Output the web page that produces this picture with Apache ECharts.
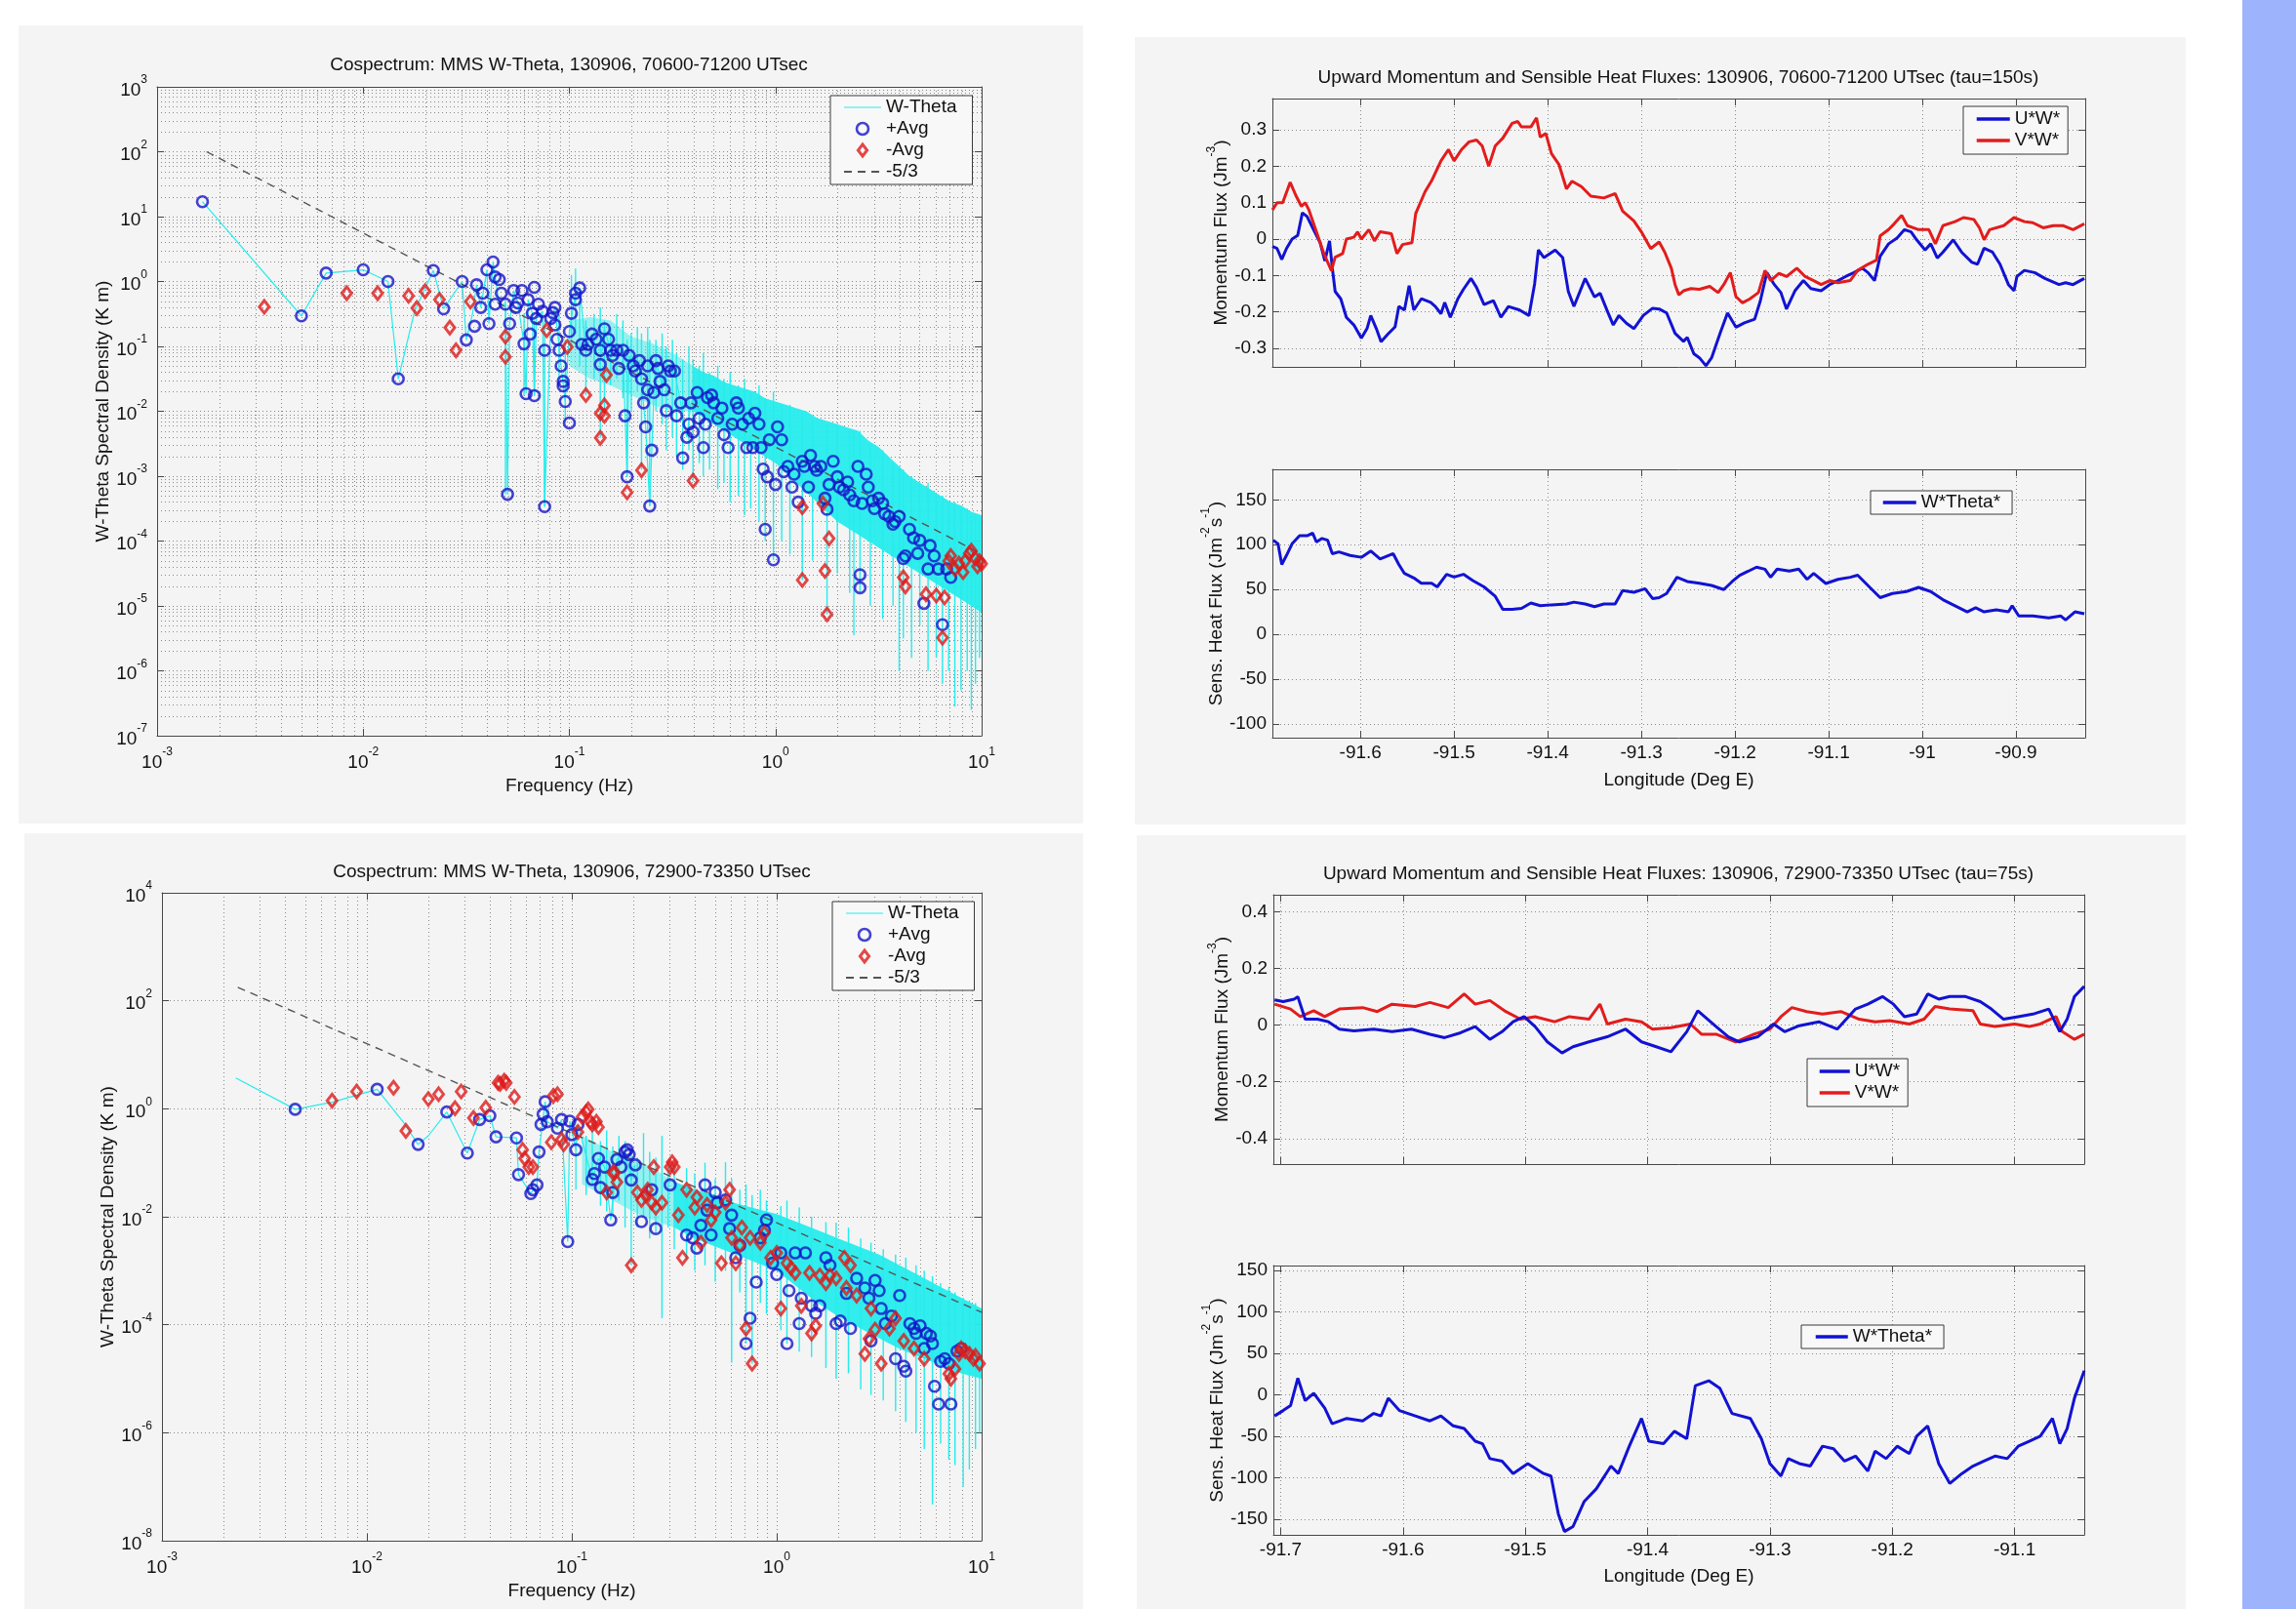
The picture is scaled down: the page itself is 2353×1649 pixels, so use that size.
<!DOCTYPE html>
<html>
<head>
<meta charset="utf-8">
<title>MMS W-Theta cospectra and fluxes, 130906</title>
<script src="https://cdn.jsdelivr.net/npm/echarts@6/dist/echarts.min.js"></script>
<style>
  html, body { margin: 0; padding: 0; background: #ffffff; }
  #chart { width: 2353px; height: 1649px; }
</style>
</head>
<body>
<div id="chart"></div>
<script>
// ---------------------------------------------------------------------------
// Cospectra (values stored as log10: [log10 frequency Hz, log10 density K m])
// Run A: 70600-71200 UTsec, run B: 72900-73350 UTsec
// ---------------------------------------------------------------------------
const posAvgA = [[-2.78,1.23],[-2.30,-0.53],[-2.18,0.13],[-2.00,0.18],[-1.88,0.00],[-1.83,-1.50],[-1.66,0.17],[-1.61,-0.42],[-1.52,0.00],[-1.50,-0.90],[-1.46,-0.69],[-1.45,-0.05],[-1.43,-0.40],[-1.42,-0.18],[-1.40,0.18],[-1.39,-0.65],[-1.37,0.30],[-1.36,0.07],[-1.34,0.03],[-1.36,-0.35],[-1.33,-0.18],[-1.31,-0.35],[-1.30,-3.28],[-1.29,-0.65],[-1.27,-0.14],[-1.26,-0.40],[-1.25,-0.33],[-1.23,-0.14],[-1.22,-0.96],[-1.21,-1.73],[-1.20,-0.28],[-1.19,-0.81],[-1.18,-0.49],[-1.17,-1.76],[-1.17,-0.09],[-1.16,-0.57],[-1.15,-0.35],[-1.13,-0.46],[-1.12,-1.06],[-1.12,-3.47],[-1.09,-0.57],[-1.08,-0.48],[-1.07,-0.40],[-1.07,-0.67],[-1.06,-0.89],[-1.05,-1.06],[-1.04,-1.30],[-1.03,-1.61],[-1.03,-1.54],[-1.02,-1.85],[-1.00,-2.18],[-1.00,-0.77],[-0.99,-0.49],[-0.97,-0.18],[-0.97,-0.28],[-0.95,-0.10],[-0.94,-0.97],[-0.92,-1.06],[-0.91,-0.97],[-0.89,-0.81],[-0.87,-0.89],[-0.85,-1.28],[-0.85,-1.06],[-0.83,-0.73],[-0.81,-0.89],[-0.80,-1.06],[-0.79,-1.14],[-0.77,-1.06],[-0.76,-1.34],[-0.74,-1.06],[-0.73,-2.07],[-0.72,-3.01],[-0.71,-1.14],[-0.69,-1.30],[-0.68,-1.38],[-0.66,-1.22],[-0.65,-1.50],[-0.64,-1.87],[-0.63,-2.24],[-0.62,-1.67],[-0.62,-1.30],[-0.61,-3.46],[-0.60,-2.60],[-0.59,-1.71],[-0.58,-1.22],[-0.57,-1.34],[-0.56,-1.54],[-0.54,-1.67],[-0.53,-1.99],[-0.52,-1.30],[-0.51,-1.38],[-0.49,-1.38],[-0.48,-2.07],[-0.46,-1.87],[-0.45,-2.72],[-0.43,-2.40],[-0.42,-2.20],[-0.41,-1.87],[-0.40,-2.32],[-0.38,-1.71],[-0.37,-2.11],[-0.35,-2.56],[-0.34,-2.20],[-0.33,-1.79],[-0.31,-1.75],[-0.30,-1.87],[-0.28,-2.11],[-0.26,-1.95],[-0.25,-2.36],[-0.23,-2.56],[-0.21,-2.20],[-0.19,-1.87],[-0.18,-1.95],[-0.16,-2.20],[-0.14,-2.56],[-0.13,-2.11],[-0.11,-2.56],[-0.10,-2.03],[-0.08,-2.20],[-0.07,-2.56],[-0.06,-2.89],[-0.05,-3.82],[-0.04,-3.01],[-0.03,-2.44],[-0.01,-4.29],[0.00,-3.13],[0.01,-2.24],[0.03,-2.44],[0.04,-2.93],[0.06,-2.85],[0.08,-3.17],[0.09,-2.97],[0.11,-3.40],[0.13,-2.77],[0.14,-2.85],[0.16,-3.17],[0.17,-2.68],[0.19,-2.85],[0.20,-2.91],[0.22,-2.85],[0.24,-3.34],[0.25,-3.51],[0.26,-3.13],[0.28,-2.77],[0.30,-3.01],[0.31,-3.17],[0.33,-3.21],[0.35,-3.09],[0.36,-3.29],[0.38,-3.38],[0.40,-2.85],[0.41,-4.72],[0.41,-4.52],[0.42,-3.42],[0.44,-2.97],[0.45,-3.17],[0.47,-3.38],[0.48,-3.50],[0.50,-3.34],[0.52,-3.42],[0.53,-3.58],[0.55,-3.62],[0.57,-3.74],[0.58,-3.70],[0.60,-3.62],[0.62,-4.27],[0.63,-4.23],[0.65,-3.82],[0.67,-3.95],[0.69,-4.19],[0.70,-3.99],[0.72,-4.96],[0.74,-4.43],[0.75,-4.07],[0.77,-4.23],[0.79,-4.43],[0.81,-5.29],[0.83,-4.43],[0.85,-4.56]];
const negAvgA = [[-2.48,-0.39],[-2.08,-0.18],[-1.93,-0.18],[-1.78,-0.22],[-1.74,-0.41],[-1.70,-0.15],[-1.63,-0.28],[-1.58,-0.71],[-1.55,-1.06],[-1.48,-0.31],[-1.31,-0.85],[-1.31,-1.16],[-1.11,-0.75],[-1.01,-1.01],[-0.92,-1.75],[-0.85,-2.03],[-0.83,-1.91],[-0.83,-2.07],[-0.85,-2.41],[-0.82,-1.44],[-0.72,-3.25],[-0.65,-2.91],[-0.40,-3.07],[0.13,-3.48],[0.13,-4.60],[0.23,-3.42],[0.24,-4.46],[0.25,-5.13],[0.26,-3.96],[0.62,-4.56],[0.63,-4.70],[0.73,-4.82],[0.78,-4.84],[0.82,-4.87],[0.81,-5.49],[0.84,-4.31],[0.85,-4.23],[0.87,-4.43],[0.89,-4.35],[0.91,-4.48],[0.92,-4.31],[0.94,-4.19],[0.95,-4.15],[0.97,-4.27],[0.98,-4.39],[0.99,-4.31],[1.00,-4.35]];
const traceA = [[-2.78,1.23],[-2.30,-0.53],[-2.18,0.13],[-2.00,0.18],[-1.88,0.00],[-1.83,-1.50],[-1.75,-0.45],[-1.66,0.17],[-1.61,-0.42],[-1.52,0.00],[-1.50,-0.90],[-1.47,-0.50],[-1.45,-0.05],[-1.43,-0.40],[-1.40,0.18],[-1.39,-0.65],[-1.37,0.30],[-1.36,0.07],[-1.34,-0.35],[-1.31,-0.35],[-1.30,-3.28],[-1.29,-0.65],[-1.27,-0.14],[-1.25,-0.33],[-1.22,-0.96],[-1.21,-1.73],[-1.20,-0.28],[-1.18,-0.49],[-1.17,-1.76],[-1.16,-0.57],[-1.13,-0.46],[-1.12,-3.47],[-1.09,-0.57],[-1.07,-0.40],[-1.04,-1.30],[-1.02,-1.85],[-1.00,-0.77],[-0.97,-0.18],[-0.95,-0.10],[-0.92,-1.06],[-0.89,-0.81],[-0.85,-1.28],[-0.83,-0.73],[-0.80,-1.06],[-0.77,-1.06],[-0.74,-1.06],[-0.72,-3.01],[-0.71,-1.14],[-0.68,-1.38],[-0.66,-1.22],[-0.63,-2.24],[-0.61,-3.46],[-0.59,-1.71],[-0.58,-1.22],[-0.55,-1.60],[-0.52,-1.30],[-0.49,-1.38],[-0.46,-1.87],[-0.43,-2.40],[-0.41,-1.87],[-0.38,-1.71]];
// upper / lower edge of the dense high-frequency part of the W-Theta trace
const thinTopA = [[-1.0,-0.6],[-0.9,-0.55],[-0.8,-0.6],[-0.7,-0.85],[-0.6,-0.95],[-0.5,-1.1],[-0.4,-1.3]];
const thinBotA = [[-1.0,-1.3],[-0.9,-1.5],[-0.8,-1.6],[-0.7,-1.75],[-0.6,-1.9],[-0.5,-2.0],[-0.4,-2.0]];
const bandTopA = [[-0.40,-1.3],[-0.35,-1.4],[-0.3,-1.45],[-0.25,-1.55],[-0.2,-1.6],[-0.15,-1.65],[-0.1,-1.7],[-0.05,-1.8],[0,-1.85],[0.05,-1.9],[0.1,-1.95],[0.15,-2.0],[0.2,-2.1],[0.25,-2.15],[0.3,-2.2],[0.35,-2.25],[0.4,-2.3],[0.45,-2.45],[0.5,-2.55],[0.55,-2.7],[0.6,-2.85],[0.65,-3.0],[0.7,-3.1],[0.75,-3.2],[0.8,-3.3],[0.85,-3.4],[0.9,-3.45],[0.95,-3.55],[1.0,-3.6]];
const bandBotA = [[-0.40,-2.0],[-0.3,-2.2],[-0.2,-2.4],[-0.1,-2.6],[0,-2.8],[0.1,-3.1],[0.2,-3.4],[0.3,-3.7],[0.4,-3.9],[0.5,-4.1],[0.6,-4.3],[0.7,-4.5],[0.8,-4.7],[0.9,-4.9],[1.0,-5.1]];
// individual excursions of the trace: [log10 f, log10 top, log10 bottom]
const spikesA = [[-1.31,-0.30,-3.28],[-1.22,-0.50,-1.76],[-1.17,-0.60,-1.76],[-1.12,-0.60,-3.47],[-1.05,-0.50,-1.60],[-1.02,-0.90,-2.18],[-0.99,0.10,-1.00],[-0.97,0.20,-0.80],[-0.95,-0.20,-1.30],[-0.92,-0.60,-1.75],[-0.88,-0.50,-1.50],[-0.85,-0.40,-2.41],[-0.83,-0.60,-2.00],[-0.80,-0.70,-1.60],[-0.77,-0.50,-1.50],[-0.74,-0.60,-1.80],[-0.72,-0.90,-3.01],[-0.70,-0.80,-2.00],[-0.67,-0.70,-1.70],[-0.65,-0.80,-2.90],[-0.62,-0.70,-2.30],[-0.61,-0.90,-3.46],[-0.58,-0.90,-2.00],[-0.55,-0.80,-2.20],[-0.53,-1.00,-2.60],[-0.50,-0.90,-2.40],[-0.48,-1.10,-2.70],[-0.45,-1.20,-2.90],[-0.42,-1.00,-2.60],[-0.40,-1.20,-3.07],[-0.37,-1.30,-2.80],[-0.35,-1.10,-3.00],[-0.32,-1.40,-2.90],[-0.28,-1.30,-3.20],[-0.25,-1.50,-3.10],[-0.22,-1.40,-3.40],[-0.18,-1.60,-3.30],[-0.15,-1.50,-3.60],[-0.12,-1.70,-3.50],[-0.08,-1.60,-3.70],[-0.05,-1.80,-4.00],[-0.01,-1.70,-4.29],[0.03,-1.90,-4.00],[0.07,-1.90,-4.20],[0.13,-2.00,-4.60],[0.18,-2.10,-4.30],[0.25,-2.20,-5.13],[0.30,-2.20,-4.50],[0.36,-2.30,-4.80],[0.38,-2.30,-5.45],[0.41,-2.30,-4.80],[0.46,-2.50,-5.00],[0.52,-2.60,-5.20],[0.57,-2.80,-5.00],[0.60,-2.85,-6.00],[0.62,-2.90,-5.50],[0.66,-3.00,-5.80],[0.70,-3.10,-5.30],[0.74,-3.10,-6.00],[0.78,-3.30,-5.80],[0.81,-3.30,-6.20],[0.84,-3.40,-6.00],[0.87,-3.40,-6.55],[0.90,-3.50,-6.30],[0.93,-3.50,-6.00],[0.95,-3.60,-6.60],[0.97,-3.60,-6.20],[0.99,-3.60,-5.80]];
const slopeA = [[-2.76,2.0],[1.0,-4.2]];

const posAvgB = [[-2.35,-0.01],[-1.95,0.36],[-1.75,-0.66],[-1.61,-0.06],[-1.51,-0.82],[-1.45,-0.20],[-1.40,-0.13],[-1.37,-0.52],[-1.27,-0.54],[-1.26,-1.22],[-1.20,-1.57],[-1.19,-1.50],[-1.17,-1.41],[-1.16,-0.80],[-1.15,-0.29],[-1.14,-0.10],[-1.13,0.13],[-1.12,-0.24],[-1.07,-0.36],[-1.05,-0.20],[-1.02,-2.46],[-1.01,-0.23],[-1.00,-0.48],[-0.98,-0.76],[-0.97,-0.29],[-0.90,-1.31],[-0.89,-1.20],[-0.87,-0.92],[-0.86,-1.46],[-0.84,-1.08],[-0.81,-2.06],[-0.80,-1.55],[-0.78,-0.94],[-0.76,-1.08],[-0.74,-0.80],[-0.73,-0.76],[-0.72,-0.85],[-0.71,-1.32],[-0.69,-1.04],[-0.66,-2.09],[-0.61,-1.50],[-0.59,-2.22],[-0.52,-1.41],[-0.44,-2.34],[-0.41,-2.39],[-0.39,-2.58],[-0.37,-2.16],[-0.35,-1.41],[-0.34,-1.88],[-0.32,-2.34],[-0.30,-1.55],[-0.29,-1.74],[-0.25,-1.69],[-0.23,-2.22],[-0.22,-1.97],[-0.20,-2.76],[-0.18,-2.53],[-0.15,-4.35],[-0.13,-3.88],[-0.10,-3.21],[-0.08,-2.39],[-0.06,-2.25],[-0.05,-2.06],[-0.02,-2.86],[0.00,-3.07],[0.02,-2.67],[0.05,-4.35],[0.06,-3.37],[0.09,-2.67],[0.11,-3.98],[0.12,-3.51],[0.14,-2.67],[0.17,-3.65],[0.19,-3.79],[0.21,-3.65],[0.24,-2.76],[0.26,-2.90],[0.29,-3.98],[0.31,-3.93],[0.34,-3.42],[0.36,-4.07],[0.39,-3.14],[0.43,-3.32],[0.45,-3.51],[0.46,-4.30],[0.48,-3.18],[0.50,-3.37],[0.51,-3.70],[0.53,-3.98],[0.56,-3.84],[0.58,-4.63],[0.60,-3.46],[0.62,-4.77],[0.63,-4.86],[0.65,-3.98],[0.67,-4.07],[0.68,-4.16],[0.70,-4.02],[0.72,-4.44],[0.73,-4.16],[0.75,-4.21],[0.76,-4.35],[0.77,-5.14],[0.79,-5.47],[0.80,-4.68],[0.82,-4.63],[0.84,-4.72],[0.85,-5.47],[0.88,-4.49],[0.90,-4.44]];
const negAvgB = [[-2.17,0.15],[-2.05,0.32],[-1.87,0.39],[-1.81,-0.41],[-1.70,0.18],[-1.65,0.27],[-1.57,0.01],[-1.54,0.32],[-1.48,-0.17],[-1.42,0.02],[-1.36,0.48],[-1.35,0.46],[-1.33,0.52],[-1.32,0.48],[-1.28,0.22],[-1.24,-0.76],[-1.23,-0.92],[-1.21,-1.08],[-1.19,-1.08],[-1.10,-0.62],[-1.09,0.24],[-1.07,0.27],[-1.05,-0.57],[-1.04,-0.66],[-0.97,-0.43],[-0.95,-0.15],[-0.93,-0.06],[-0.92,-0.01],[-0.91,-0.24],[-0.90,-0.29],[-0.88,-0.24],[-0.87,-0.34],[-0.83,-1.55],[-0.80,-1.18],[-0.79,-1.18],[-0.78,-1.36],[-0.71,-2.90],[-0.68,-1.55],[-0.66,-1.69],[-0.64,-1.60],[-0.63,-1.50],[-0.61,-1.74],[-0.60,-1.08],[-0.59,-1.83],[-0.56,-1.74],[-0.52,-1.08],[-0.51,-0.99],[-0.50,-1.08],[-0.48,-1.97],[-0.46,-2.76],[-0.44,-1.50],[-0.40,-1.83],[-0.39,-1.64],[-0.37,-2.48],[-0.34,-1.78],[-0.32,-2.06],[-0.30,-1.92],[-0.27,-2.86],[-0.25,-1.74],[-0.23,-1.50],[-0.22,-2.39],[-0.20,-2.86],[-0.18,-2.53],[-0.17,-2.20],[-0.15,-4.07],[-0.13,-2.39],[-0.12,-4.72],[-0.08,-2.48],[-0.06,-2.30],[-0.03,-2.76],[0.00,-2.67],[0.02,-3.70],[0.05,-2.86],[0.07,-2.95],[0.09,-3.04],[0.12,-3.65],[0.16,-3.04],[0.17,-4.16],[0.19,-4.02],[0.21,-3.09],[0.24,-3.23],[0.26,-3.09],[0.29,-3.14],[0.33,-2.76],[0.34,-3.32],[0.36,-2.90],[0.39,-3.46],[0.43,-4.54],[0.45,-4.26],[0.46,-3.70],[0.48,-4.09],[0.51,-4.72],[0.55,-4.07],[0.58,-3.88],[0.62,-4.30],[0.67,-4.44],[0.72,-4.63],[0.84,-4.91],[0.85,-5.00],[0.87,-4.82],[0.89,-4.54],[0.90,-4.44],[0.92,-4.49],[0.94,-4.54],[0.96,-4.63],[0.97,-4.58],[0.99,-4.72]];
const traceB = [[-2.64,0.57],[-2.35,-0.01],[-2.17,0.12],[-1.95,0.36],[-1.82,-0.26],[-1.75,-0.66],[-1.70,-0.50],[-1.61,-0.06],[-1.51,-0.82],[-1.45,-0.20],[-1.40,-0.13],[-1.37,-0.52],[-1.27,-0.54],[-1.26,-1.22],[-1.20,-1.57],[-1.17,-1.41],[-1.16,-0.80],[-1.13,0.13],[-1.12,-0.24],[-1.07,-0.36],[-1.05,-0.20],[-1.02,-2.46],[-1.01,-0.23],[-0.98,-0.76],[-0.97,-0.29],[-0.90,-1.31],[-0.87,-0.92],[-0.84,-1.08],[-0.81,-2.06],[-0.78,-0.94],[-0.74,-0.80],[-0.71,-1.32],[-0.69,-1.04]];
const thinTopB = [[-0.95,-0.5],[-0.85,-0.7],[-0.75,-0.9],[-0.65,-1.0],[-0.5,-1.35]];
const thinBotB = [[-0.95,-1.4],[-0.85,-1.6],[-0.75,-1.8],[-0.65,-2.0],[-0.5,-2.2]];
const bandTopB = [[-0.50,-1.35],[-0.4,-1.5],[-0.3,-1.6],[-0.2,-1.75],[-0.1,-1.85],[0,-1.95],[0.1,-2.1],[0.2,-2.25],[0.3,-2.4],[0.4,-2.55],[0.5,-2.7],[0.6,-2.9],[0.7,-3.1],[0.8,-3.3],[0.9,-3.5],[1.0,-3.7]];
const bandBotB = [[-0.50,-2.2],[-0.4,-2.4],[-0.3,-2.55],[-0.2,-2.7],[-0.1,-2.85],[0,-3.0],[0.1,-3.3],[0.2,-3.6],[0.3,-3.85],[0.4,-4.05],[0.5,-4.25],[0.6,-4.45],[0.7,-4.6],[0.8,-4.75],[0.9,-4.9],[1.0,-5.0]];
const spikesB = [[-0.98,-0.3,-1.5],[-0.93,-0.5,-1.6],[-0.90,-0.2,-1.4],[-0.86,-0.6,-1.8],[-0.83,-0.4,-1.9],[-0.80,-0.7,-2.0],[-0.77,-0.5,-1.7],[-0.74,-0.6,-2.2],[-0.71,-0.8,-2.9],[-0.68,-0.9,-2.2],[-0.65,-0.45,-2.0],[-0.62,-0.8,-2.4],[-0.59,-0.9,-2.3],[-0.56,-0.5,-3.88],[-0.53,-1.0,-2.2],[-0.50,-1.1,-2.6],[-0.44,-1.1,-2.8],[-0.40,-1.2,-3.0],[-0.35,-1.0,-2.9],[-0.30,-1.3,-3.2],[-0.25,-0.99,-3.0],[-0.22,-1.3,-4.7],[-0.18,-1.5,-3.4],[-0.15,-1.4,-4.35],[-0.12,-1.6,-4.72],[-0.08,-1.5,-3.6],[-0.05,-1.7,-3.8],[0.02,-1.8,-4.1],[0.05,-1.7,-4.35],[0.11,-1.83,-4.5],[0.17,-2.0,-4.6],[0.24,-2.1,-4.8],[0.29,-2.11,-5.0],[0.35,-2.2,-4.9],[0.41,-2.4,-5.2],[0.46,-2.48,-5.3],[0.52,-2.6,-5.4],[0.58,-2.7,-5.6],[0.63,-2.76,-5.8],[0.68,-2.9,-6.0],[0.72,-3.0,-6.3],[0.76,-3.1,-7.33],[0.80,-3.23,-6.2],[0.84,-3.3,-6.5],[0.87,-3.4,-6.6],[0.91,-3.5,-7.0],[0.94,-3.55,-6.68],[0.97,-3.6,-6.3],[0.99,-3.7,-6.0]];
const slopeB = [[-2.63,2.25],[1.0,-3.77]];

// ---------------------------------------------------------------------------
// Flux traces along the flight track: [longitude deg E, value]
// ---------------------------------------------------------------------------
const uwA = [[-91.694,-0.02],[-91.689,-0.026],[-91.684,-0.056],[-91.679,-0.026],[-91.673,0.0],[-91.667,0.01],[-91.662,0.072],[-91.657,0.062],[-91.651,0.031],[-91.643,-0.01],[-91.638,-0.06],[-91.633,-0.005],[-91.630,-0.08],[-91.627,-0.144],[-91.621,-0.164],[-91.615,-0.215],[-91.607,-0.236],[-91.599,-0.272],[-91.593,-0.246],[-91.589,-0.21],[-91.583,-0.246],[-91.578,-0.282],[-91.571,-0.262],[-91.563,-0.241],[-91.559,-0.185],[-91.553,-0.195],[-91.548,-0.128],[-91.543,-0.195],[-91.535,-0.164],[-91.525,-0.174],[-91.520,-0.185],[-91.514,-0.205],[-91.510,-0.174],[-91.504,-0.215],[-91.496,-0.164],[-91.490,-0.138],[-91.482,-0.108],[-91.476,-0.133],[-91.468,-0.18],[-91.458,-0.169],[-91.450,-0.215],[-91.442,-0.185],[-91.430,-0.195],[-91.420,-0.21],[-91.414,-0.123],[-91.410,-0.03],[-91.404,-0.051],[-91.392,-0.03],[-91.384,-0.051],[-91.378,-0.144],[-91.372,-0.185],[-91.360,-0.108],[-91.350,-0.159],[-91.344,-0.149],[-91.336,-0.2],[-91.330,-0.236],[-91.324,-0.21],[-91.316,-0.231],[-91.308,-0.246],[-91.298,-0.21],[-91.288,-0.19],[-91.281,-0.192],[-91.273,-0.203],[-91.264,-0.259],[-91.255,-0.281],[-91.251,-0.27],[-91.244,-0.315],[-91.238,-0.326],[-91.231,-0.348],[-91.225,-0.326],[-91.216,-0.259],[-91.208,-0.203],[-91.199,-0.242],[-91.190,-0.23],[-91.179,-0.22],[-91.173,-0.17],[-91.166,-0.092],[-91.158,-0.125],[-91.151,-0.147],[-91.145,-0.192],[-91.136,-0.142],[-91.127,-0.114],[-91.119,-0.136],[-91.108,-0.142],[-91.099,-0.125],[-91.090,-0.114],[-91.082,-0.103],[-91.073,-0.092],[-91.064,-0.08],[-91.058,-0.092],[-91.051,-0.114],[-91.045,-0.047],[-91.036,-0.013],[-91.027,0.003],[-91.019,0.026],[-91.012,0.02],[-91.006,-0.002],[-90.997,-0.03],[-90.991,-0.013],[-90.984,-0.052],[-90.978,-0.036],[-90.967,-0.002],[-90.958,-0.036],[-90.947,-0.064],[-90.941,-0.069],[-90.934,-0.025],[-90.925,-0.036],[-90.917,-0.069],[-90.908,-0.125],[-90.902,-0.142],[-90.899,-0.103],[-90.891,-0.086],[-90.880,-0.092],[-90.869,-0.108],[-90.854,-0.125],[-90.847,-0.12],[-90.839,-0.125],[-90.827,-0.108]];
const vwA = [[-91.694,0.08],[-91.689,0.10],[-91.683,0.10],[-91.675,0.156],[-91.669,0.12],[-91.663,0.09],[-91.659,0.10],[-91.655,0.08],[-91.647,0.02],[-91.639,-0.04],[-91.631,-0.087],[-91.627,-0.05],[-91.619,-0.04],[-91.615,0.0],[-91.607,0.005],[-91.603,0.02],[-91.599,0.0],[-91.591,0.026],[-91.585,-0.005],[-91.579,0.02],[-91.567,0.015],[-91.561,-0.04],[-91.555,-0.015],[-91.545,-0.01],[-91.541,0.07],[-91.531,0.13],[-91.524,0.16],[-91.514,0.215],[-91.506,0.246],[-91.500,0.215],[-91.492,0.246],[-91.484,0.267],[-91.476,0.272],[-91.470,0.256],[-91.463,0.20],[-91.456,0.256],[-91.448,0.277],[-91.438,0.318],[-91.432,0.323],[-91.428,0.308],[-91.418,0.308],[-91.412,0.333],[-91.408,0.28],[-91.402,0.29],[-91.396,0.235],[-91.388,0.205],[-91.380,0.138],[-91.374,0.159],[-91.364,0.144],[-91.354,0.118],[-91.340,0.113],[-91.328,0.125],[-91.320,0.077],[-91.308,0.05],[-91.300,0.02],[-91.290,-0.026],[-91.281,-0.008],[-91.275,-0.036],[-91.268,-0.08],[-91.264,-0.125],[-91.260,-0.153],[-91.255,-0.142],[-91.247,-0.136],[-91.238,-0.138],[-91.227,-0.13],[-91.218,-0.147],[-91.212,-0.125],[-91.205,-0.092],[-91.199,-0.158],[-91.192,-0.175],[-91.184,-0.164],[-91.175,-0.147],[-91.168,-0.086],[-91.162,-0.114],[-91.153,-0.094],[-91.145,-0.103],[-91.134,-0.08],[-91.125,-0.103],[-91.116,-0.114],[-91.108,-0.125],[-91.099,-0.114],[-91.090,-0.12],[-91.077,-0.114],[-91.069,-0.086],[-91.058,-0.069],[-91.049,-0.058],[-91.045,0.009],[-91.036,0.026],[-91.030,0.042],[-91.022,0.065],[-91.016,0.037],[-91.004,0.026],[-90.993,0.026],[-90.986,-0.013],[-90.978,0.037],[-90.965,0.048],[-90.956,0.059],[-90.945,0.054],[-90.939,0.031],[-90.934,-0.002],[-90.928,0.026],[-90.913,0.037],[-90.902,0.059],[-90.891,0.048],[-90.882,0.045],[-90.871,0.031],[-90.860,0.037],[-90.850,0.037],[-90.839,0.026],[-90.827,0.042]];
const wtA = [[-91.693,105],[-91.688,101],[-91.684,78],[-91.679,88],[-91.673,101],[-91.665,110],[-91.657,110],[-91.651,113],[-91.647,103],[-91.641,107],[-91.635,105],[-91.630,90],[-91.623,92],[-91.611,88],[-91.599,86],[-91.589,93],[-91.579,84],[-91.565,90],[-91.559,78],[-91.553,68],[-91.543,63],[-91.535,57],[-91.524,57],[-91.518,53],[-91.508,67],[-91.500,64],[-91.490,67],[-91.480,60],[-91.468,53],[-91.456,42.5],[-91.448,28],[-91.438,28],[-91.428,29],[-91.418,35],[-91.408,32],[-91.396,33],[-91.380,34],[-91.372,36],[-91.360,34],[-91.350,31],[-91.340,34],[-91.328,34],[-91.320,49],[-91.308,47],[-91.296,51],[-91.288,40],[-91.281,41],[-91.273,45.6],[-91.262,63.7],[-91.251,59],[-91.238,57],[-91.225,54.6],[-91.212,50],[-91.203,59],[-91.195,66],[-91.186,70.4],[-91.177,75],[-91.168,72.7],[-91.162,63.7],[-91.155,72.8],[-91.142,70.6],[-91.132,72.8],[-91.123,61.4],[-91.116,68],[-91.103,56.8],[-91.090,61.4],[-91.077,63.7],[-91.069,66],[-91.056,52.4],[-91.045,41],[-91.032,45.6],[-91.017,47.8],[-91.004,52.4],[-90.991,47.8],[-90.978,38.8],[-90.965,32],[-90.952,25.2],[-90.943,29.8],[-90.934,25.2],[-90.921,27.5],[-90.908,25.2],[-90.904,32],[-90.897,20.6],[-90.882,20.6],[-90.865,18.4],[-90.852,20.6],[-90.847,16.2],[-90.837,25.2],[-90.827,23]];

const uwB = [[-91.705,0.089],[-91.698,0.083],[-91.689,0.092],[-91.686,0.10],[-91.680,0.021],[-91.670,0.021],[-91.661,0.012],[-91.652,-0.014],[-91.640,-0.02],[-91.624,-0.014],[-91.609,-0.023],[-91.593,-0.014],[-91.578,-0.032],[-91.566,-0.044],[-91.553,-0.027],[-91.541,-0.005],[-91.529,-0.05],[-91.519,-0.023],[-91.510,0.012],[-91.501,0.03],[-91.492,-0.005],[-91.482,-0.059],[-91.470,-0.098],[-91.461,-0.076],[-91.448,-0.059],[-91.433,-0.041],[-91.418,-0.014],[-91.405,-0.059],[-91.393,-0.076],[-91.381,-0.094],[-91.368,-0.023],[-91.359,0.051],[-91.344,-0.005],[-91.334,-0.041],[-91.325,-0.059],[-91.310,-0.041],[-91.297,0.004],[-91.288,-0.023],[-91.276,-0.002],[-91.260,0.012],[-91.245,-0.014],[-91.230,0.057],[-91.220,0.074],[-91.208,0.101],[-91.199,0.074],[-91.190,0.03],[-91.180,0.039],[-91.171,0.11],[-91.162,0.092],[-91.153,0.101],[-91.140,0.101],[-91.128,0.083],[-91.119,0.057],[-91.109,0.021],[-91.097,0.03],[-91.085,0.039],[-91.072,0.057],[-91.063,-0.023],[-91.057,0.021],[-91.051,0.101],[-91.043,0.137]];
const vwB = [[-91.705,0.074],[-91.692,0.057],[-91.684,0.03],[-91.673,0.051],[-91.664,0.03],[-91.652,0.057],[-91.633,0.062],[-91.621,0.048],[-91.609,0.074],[-91.590,0.066],[-91.578,0.08],[-91.563,0.062],[-91.550,0.11],[-91.541,0.074],[-91.529,0.087],[-91.516,0.048],[-91.504,0.021],[-91.492,0.03],[-91.476,0.012],[-91.464,0.03],[-91.448,0.021],[-91.439,0.074],[-91.433,0.004],[-91.418,0.021],[-91.405,0.012],[-91.396,-0.014],[-91.381,-0.009],[-91.365,0.004],[-91.356,-0.032],[-91.344,-0.032],[-91.328,-0.059],[-91.313,-0.032],[-91.300,-0.014],[-91.291,0.03],[-91.282,0.062],[-91.270,0.048],[-91.257,0.039],[-91.242,0.048],[-91.227,0.021],[-91.214,0.012],[-91.202,0.016],[-91.186,0.004],[-91.174,0.021],[-91.165,0.066],[-91.153,0.057],[-91.134,0.051],[-91.128,0.004],[-91.116,-0.005],[-91.100,0.004],[-91.088,-0.005],[-91.079,0.004],[-91.066,0.03],[-91.061,-0.023],[-91.051,-0.05],[-91.043,-0.032]];
const wtB = [[-91.705,-25.5],[-91.698,-19],[-91.692,-13],[-91.686,20],[-91.680,-7],[-91.673,2],[-91.664,-16],[-91.658,-35],[-91.646,-28.5],[-91.633,-31.5],[-91.624,-22.5],[-91.618,-25.5],[-91.612,-4],[-91.603,-19],[-91.590,-25.5],[-91.578,-31.5],[-91.569,-25.5],[-91.559,-37.5],[-91.550,-40.7],[-91.541,-56],[-91.535,-59],[-91.529,-77],[-91.519,-80],[-91.510,-95],[-91.498,-83],[-91.485,-95],[-91.479,-98],[-91.473,-144],[-91.468,-165],[-91.461,-159],[-91.452,-129],[-91.442,-113.5],[-91.430,-86],[-91.424,-95],[-91.415,-62],[-91.405,-28.5],[-91.399,-56],[-91.387,-59],[-91.378,-44],[-91.368,-53],[-91.361,11],[-91.350,17],[-91.341,8],[-91.331,-22.5],[-91.316,-28.5],[-91.307,-53],[-91.300,-83],[-91.291,-98],[-91.285,-77],[-91.276,-83],[-91.267,-86],[-91.257,-62],[-91.248,-65],[-91.239,-80],[-91.230,-74],[-91.220,-92],[-91.214,-68],[-91.205,-77],[-91.196,-62],[-91.186,-71],[-91.180,-50],[-91.171,-37.5],[-91.162,-83],[-91.153,-107],[-91.143,-95],[-91.134,-86],[-91.125,-80],[-91.116,-74],[-91.106,-77],[-91.097,-62],[-91.088,-56],[-91.079,-50],[-91.069,-28.5],[-91.063,-59],[-91.057,-40.7],[-91.051,-4],[-91.043,29]];

// tick positions
const lonTicksA = [-91.6, -91.5, -91.4, -91.3, -91.2, -91.1, -91, -90.9];
const lonTicksB = [-91.7, -91.6, -91.5, -91.4, -91.3, -91.2, -91.1];
const momTicksA = [-0.3, -0.2, -0.1, 0, 0.1, 0.2, 0.3];
const momTicksB = [-0.4, -0.2, 0, 0.2, 0.4];
const heatTicksA = [-100, -50, 0, 50, 100, 150];
const heatTicksB = [-150, -100, -50, 0, 50, 100, 150];

const titles = [
  'Cospectrum: MMS W-Theta, 130906, 70600-71200 UTsec',
  'Cospectrum: MMS W-Theta, 130906, 72900-73350 UTsec',
  'Upward Momentum and Sensible Heat Fluxes: 130906, 70600-71200 UTsec (tau=150s)',
  'Upward Momentum and Sensible Heat Fluxes: 130906, 72900-73350 UTsec (tau=75s)'
];

// ---------------------------------------------------------------------------
// styling
// ---------------------------------------------------------------------------
const FONT = "'Liberation Sans', Arial, Helvetica, sans-serif";
const INK = '#111111';
const FRAME = '#474747';
const GRIDC = '#8a8a8a';
const PANEL = '#f4f4f4';
const CYAN = '#26ecec';
const BLUE_M = '#1414c8';
const RED_M = '#de1a1a';
const BLUE_L = '#1212d2';
const RED_L = '#e31c1c';

const rich = {
  n: { fontSize: 19, fontFamily: FONT, color: INK, lineHeight: 26, verticalAlign: 'bottom' },
  s: { fontSize: 12, fontFamily: FONT, color: INK, lineHeight: 13, verticalAlign: 'top' }
};
const decade = v => '{n|10}{s|' + Math.round(Math.log10(v)) + '}';
const pow10 = a => a.map(p => p.map(v => Math.pow(10, v)));

// minor log grid positions 2..9 x 10^k
function minorLog(k0, k1) {
  const out = [];
  for (let k = k0; k < k1; k++) for (let m = 2; m <= 9; m++) out.push(m * Math.pow(10, k));
  return out;
}

const grids = [
  { left: 161, top: 89, width: 845, height: 665 },
  { left: 166, top: 915, width: 840, height: 664 },
  { left: 1304, top: 101, width: 833, height: 275 },
  { left: 1304, top: 481, width: 833, height: 275 },
  { left: 1305, top: 917, width: 831, height: 276 },
  { left: 1305, top: 1297, width: 831, height: 276 }
].map(g => Object.assign({ show: true, backgroundColor: PANEL, borderWidth: 0, outerBoundsMode: 'none' }, g));

function frame(pos, main) {
  return {
    position: pos,
    axisLine: { show: true, onZero: false, lineStyle: { color: FRAME, width: 1 } },
    axisTick: { show: true, inside: true, length: 7, lineStyle: { color: FRAME, width: 1 } },
    axisLabel: { show: main, color: INK, fontSize: 19, fontFamily: FONT },
    splitLine: { show: main, lineStyle: { color: GRIDC, width: 1, type: [1, 3] } },
    nameTextStyle: { color: INK, fontSize: 19, fontFamily: FONT, rich: rich },
    silent: true
  };
}
function logX(gi, main) {
  const a = Object.assign(frame(main ? 'bottom' : 'top', main),
    { type: 'log', logBase: 10, gridIndex: gi, min: 1e-3, max: 10, interval: 1 });
  if (main) {
    a.axisLabel.formatter = decade; a.axisLabel.rich = rich; a.axisLabel.margin = 11;
    a.name = '{n|Frequency (Hz)}'; a.nameLocation = 'middle'; a.nameGap = 35;
  }
  return a;
}
function logY(gi, main, min, max, interval) {
  const a = Object.assign(frame(main ? 'left' : 'right', main),
    { type: 'log', logBase: 10, gridIndex: gi, min: min, max: max, interval: interval });
  if (main) {
    a.axisLabel.formatter = decade; a.axisLabel.rich = rich; a.axisLabel.margin = 10;
    a.name = '{n|W-Theta Spectral Density (K m)}'; a.nameLocation = 'middle'; a.nameGap = 40;
  }
  return a;
}
function valAxis(dim, gi, main, min, max, ticks, showLabels, name, gap) {
  const pos = dim === 'x' ? (main ? 'bottom' : 'top') : (main ? 'left' : 'right');
  const a = Object.assign(frame(pos, main), { type: 'value', gridIndex: gi, min: min, max: max });
  a.axisTick.customValues = ticks;
  a.axisLabel.customValues = ticks;
  a.axisLabel.show = main && showLabels;
  a.axisLabel.margin = 6;
  a.axisLabel.formatter = v => String(v);
  if (main && name) { a.name = name; a.nameLocation = 'middle'; a.nameGap = gap; }
  return a;
}

const xAxis = [
  logX(0, true), logX(0, false),
  logX(1, true), logX(1, false),
  valAxis('x', 2, true, -91.694, -90.826, lonTicksA, false), valAxis('x', 2, false, -91.694, -90.826, lonTicksA, false),
  valAxis('x', 3, true, -91.694, -90.826, lonTicksA, true, '{n|Longitude (Deg E)}', 27), valAxis('x', 3, false, -91.694, -90.826, lonTicksA, false),
  valAxis('x', 4, true, -91.706, -91.043, lonTicksB, false), valAxis('x', 4, false, -91.706, -91.043, lonTicksB, false),
  valAxis('x', 5, true, -91.706, -91.043, lonTicksB, true, '{n|Longitude (Deg E)}', 26), valAxis('x', 5, false, -91.706, -91.043, lonTicksB, false)
];
const momName = '{n|Momentum Flux (Jm}{s|-3}{n|)}';
const heatName = '{n|Sens. Heat Flux (Jm}{s|-2}{n|s}{s|-1}{n|)}';
const yAxis = [
  logY(0, true, 1e-7, 1e3, 1), logY(0, false, 1e-7, 1e3, 1),
  logY(1, true, 1e-8, 1e4, 2), logY(1, false, 1e-8, 1e4, 2),
  valAxis('y', 2, true, -0.351, 0.386, momTicksA, true, momName, 40), valAxis('y', 2, false, -0.351, 0.386, momTicksA, false),
  valAxis('y', 3, true, -115, 184, heatTicksA, true, heatName, 44), valAxis('y', 3, false, -115, 184, heatTicksA, false),
  valAxis('y', 4, true, -0.49, 0.46, momTicksB, true, momName, 40), valAxis('y', 4, false, -0.49, 0.46, momTicksB, false),
  valAxis('y', 5, true, -169, 156, heatTicksB, true, heatName, 45), valAxis('y', 5, false, -169, 156, heatTicksB, false)
];

// ---------------------------------------------------------------------------
// series builders
// ---------------------------------------------------------------------------
function gridLinesX(gi, values, yRef) {
  return { type: 'custom', xAxisIndex: 2 * gi, yAxisIndex: 2 * gi, silent: true, z: 0, animation: false,
    data: values.map(v => [v, yRef]), encode: { x: 0, y: 1 },
    renderItem: (p, api) => {
      const cs = p.coordSys;
      const x = Math.round(api.coord([api.value(0), api.value(1)])[0]) + 0.5;
      return { type: 'line', shape: { x1: x, y1: cs.y, x2: x, y2: cs.y + cs.height },
        style: { stroke: GRIDC, lineWidth: 1, lineDash: [1, 3] } };
    } };
}
function gridLinesY(gi, values, xRef) {
  return { type: 'custom', xAxisIndex: 2 * gi, yAxisIndex: 2 * gi, silent: true, z: 0, animation: false,
    data: values.map(v => [xRef, v]), encode: { x: 0, y: 1 },
    renderItem: (p, api) => {
      const cs = p.coordSys;
      const y = Math.round(api.coord([api.value(0), api.value(1)])[1]) + 0.5;
      return { type: 'line', shape: { x1: cs.x, y1: y, x2: cs.x + cs.width, y2: y },
        style: { stroke: GRIDC, lineWidth: 1, lineDash: [1, 3] } };
    } };
}
function bandSeries(gi, top, bot, opacity) {
  const t = pow10(top), b = pow10(bot).reverse();
  return { type: 'custom', xAxisIndex: 2 * gi, yAxisIndex: 2 * gi, silent: true, z: 1, animation: false,
    data: [[1, 1]], encode: { x: 0, y: 1 },
    renderItem: (p, api) => ({ type: 'polygon',
      shape: { points: t.concat(b).map(q => api.coord(q)) },
      style: { fill: CYAN, opacity: opacity } }) };
}
function spikeSeries(gi, spikes) {
  return { type: 'custom', xAxisIndex: 2 * gi, yAxisIndex: 2 * gi, silent: true, z: 2, animation: false,
    data: pow10(spikes), encode: { x: 0, y: [1, 2] },
    renderItem: (p, api) => {
      const a = api.coord([api.value(0), api.value(1)]);
      const b = api.coord([api.value(0), api.value(2)]);
      return { type: 'line', shape: { x1: a[0], y1: a[1], x2: b[0], y2: b[1] },
        style: { stroke: CYAN, lineWidth: 1.4 } };
    } };
}
function spectrumSeries(gi, d) {
  const ax = { xAxisIndex: 2 * gi, yAxisIndex: 2 * gi };
  return [
    gridLinesX(gi, minorLog(-3, 1), 1),
    ...(d.minorY ? [gridLinesY(gi, d.minorY, 1)] : []),
    bandSeries(gi, d.thinTop, d.thinBot, 0.45),
    bandSeries(gi, d.bandTop, d.bandBot, 0.95),
    spikeSeries(gi, d.spikes),
    Object.assign({ type: 'line', name: 'W-Theta', data: pow10(d.trace), symbol: 'none', z: 3,
      lineStyle: { color: CYAN, width: 1.2 }, itemStyle: { color: CYAN } }, ax),
    Object.assign({ type: 'line', name: '-5/3', data: pow10(d.slope), symbol: 'none', z: 4,
      lineStyle: { color: '#555555', width: 1.4, type: [8, 6] }, itemStyle: { color: '#555555' } }, ax),
    Object.assign({ type: 'scatter', name: '+Avg', data: pow10(d.pos), symbol: 'circle', symbolSize: 11, z: 5,
      itemStyle: { color: 'rgba(0,0,0,0)', borderColor: BLUE_M, borderWidth: 2.6 } }, ax),
    Object.assign({ type: 'scatter', name: '-Avg', data: pow10(d.neg), symbol: 'diamond', symbolSize: [10, 13], z: 5,
      itemStyle: { color: 'rgba(0,0,0,0)', borderColor: RED_M, borderWidth: 3 } }, ax)
  ];
}
function fluxLine(gi, name, data, color) {
  return { type: 'line', name: name, xAxisIndex: 2 * gi, yAxisIndex: 2 * gi, data: data,
    symbol: 'none', z: 3, lineStyle: { color: color, width: 3 }, itemStyle: { color: color } };
}

const series = [].concat(
  spectrumSeries(0, { thinTop: thinTopA, thinBot: thinBotA, bandTop: bandTopA, bandBot: bandBotA, spikes: spikesA,
    trace: traceA, slope: slopeA, pos: posAvgA, neg: negAvgA, minorY: minorLog(-7, 3) }),
  spectrumSeries(1, { thinTop: thinTopB, thinBot: thinBotB, bandTop: bandTopB, bandBot: bandBotB, spikes: spikesB,
    trace: traceB, slope: slopeB, pos: posAvgB, neg: negAvgB }),
  [
    fluxLine(2, 'U*W*', uwA, BLUE_L), fluxLine(2, 'V*W*', vwA, RED_L),
    fluxLine(3, 'W*Theta*', wtA, BLUE_L),
    fluxLine(4, 'V*W*', vwB, RED_L), fluxLine(4, 'U*W*', uwB, BLUE_L),
    fluxLine(5, 'W*Theta*', wtB, BLUE_L)
  ]
);

// legend entries: line entries carry no marker, marker entries keep their shape
const lineEntry = (name, color, width) => ({ name: name, itemStyle: { opacity: 0 },
  lineStyle: color ? { color: color, width: width } : undefined });
const specLegend = [
  lineEntry('W-Theta', CYAN, 1.2),
  { name: '+Avg', icon: 'circle', itemStyle: { color: 'rgba(0,0,0,0)', borderColor: BLUE_M, borderWidth: 2.6 } },
  { name: '-Avg', icon: 'path://M5,0L10,6.5L5,13L0,6.5Z', itemStyle: { color: 'rgba(0,0,0,0)', borderColor: RED_M, borderWidth: 3 } },
  lineEntry('-5/3')
];
function legendBox(left, top, entries, iw, pad) {
  return { show: true, orient: 'vertical', left: left, top: top, data: entries, selectedMode: false,
    itemWidth: iw, itemHeight: 12, itemGap: 0, padding: pad, symbolKeepAspect: true,
    backgroundColor: '#f8f8f8', borderColor: '#3a3a3a', borderWidth: 1, borderRadius: 0,
    textStyle: { color: INK, fontSize: 19, fontFamily: FONT, lineHeight: 22 } };
}

const panels = [
  [19, 26, 1091, 818], [25, 854, 1085, 795], [1163, 38, 1077, 807], [1165, 856, 1075, 793]
];
const graphic = panels.map(r => ({ type: 'rect', silent: true, z: -10,
  shape: { x: r[0], y: r[1], width: r[2], height: r[3] }, style: { fill: PANEL } }))
  .concat([{ type: 'rect', silent: true, z: -10, shape: { x: 2298, y: 0, width: 55, height: 1649 }, style: { fill: '#9db4fc' } }])
  .concat([[583, 67], [586, 894], [1720, 80], [1720, 896]].map((c, i) => ({
    type: 'text', silent: true, z: 10, x: c[0], y: c[1],
    style: { text: titles[i], fontSize: 19, fontFamily: FONT, fill: INK, align: 'center', verticalAlign: 'middle' } })));

const option = {
  animation: false,
  backgroundColor: '#ffffff',
  textStyle: { fontFamily: FONT },
  graphic: graphic,
  grid: grids,
  xAxis: xAxis,
  yAxis: yAxis,
  legend: [
    legendBox(851, 98, specLegend, 38, [1, 16, 2, 13]),
    legendBox(853, 924, specLegend, 38, [1, 16, 2, 13]),
    legendBox(2012, 109, [lineEntry('U*W*', BLUE_L, 3.5), lineEntry('V*W*', RED_L, 3.5)], 34, [2, 8, 3, 12]),
    legendBox(1917, 503, [lineEntry('W*Theta*', BLUE_L, 3.5)], 34, [1, 12, 1, 11]),
    legendBox(1852, 1085, [lineEntry('U*W*', BLUE_L, 3.5), lineEntry('V*W*', RED_L, 3.5)], 31, [2, 8, 3, 11]),
    legendBox(1846, 1358, [lineEntry('W*Theta*', BLUE_L, 3.5)], 33, [1, 12, 1, 13])
  ],
  series: series
};

const chart = echarts.init(document.getElementById('chart'), null, { renderer: 'canvas' });
chart.setOption(option);
</script>
</body>
</html>
